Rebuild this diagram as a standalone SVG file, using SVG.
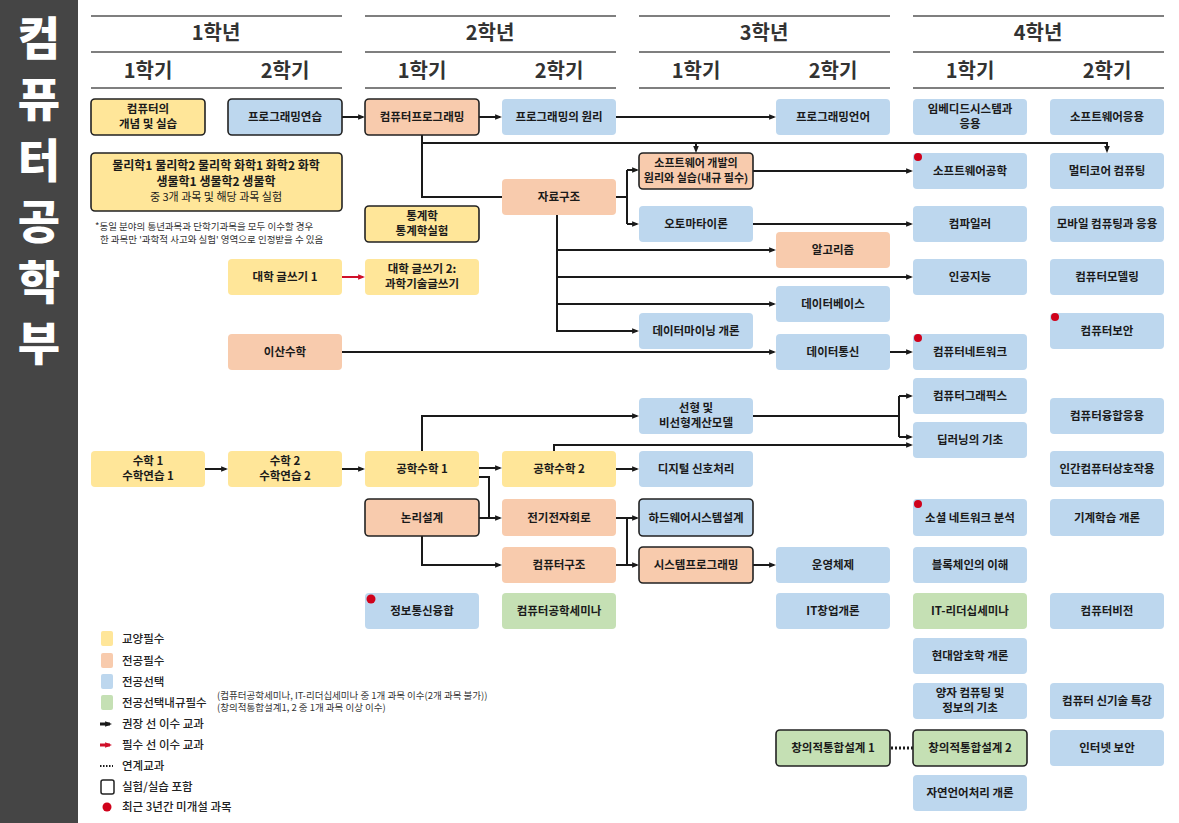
<svg xmlns="http://www.w3.org/2000/svg" width="1179" height="823" viewBox="0 0 1179 823">
<style>
.y{fill:#FFE699}.o{fill:#F8CBAD}.b{fill:#BDD7EE}.g{fill:#C5E0B4}
.bd{stroke:#222;stroke-width:1.6}
.t{font-family:"Noto Sans CJK KR","Noto Sans",sans-serif;font-size:11.5px;font-weight:700;fill:#1a1a1a;text-anchor:middle}
.h1{font-family:"Noto Sans CJK KR","Noto Sans",sans-serif;font-size:20px;font-weight:700;fill:#333;text-anchor:middle}
.h2{font-family:"Noto Sans CJK KR","Noto Sans",sans-serif;font-size:20px;font-weight:600;fill:#333;text-anchor:middle}
.hl{stroke:#555;stroke-width:1.5}
.c{fill:none;stroke:#1a1a1a;stroke-width:2}
.lg{font-family:"Noto Sans CJK KR","Noto Sans",sans-serif;font-size:11.5px;font-weight:500;fill:#222}
.sm{font-family:"Noto Sans CJK KR","Noto Sans",sans-serif;font-size:9.5px;font-weight:400;fill:#333}
.side{font-family:"Noto Sans CJK KR","Noto Sans",sans-serif;font-size:46px;font-weight:900;fill:#fff;text-anchor:middle}
.dot{fill:#D0021B}
</style>
<defs>
<marker id="a" viewBox="0 0 10 10" refX="7" refY="5" markerWidth="7" markerHeight="7" markerUnits="userSpaceOnUse" orient="auto"><path d="M0,1 L10,5 L0,9 z" fill="#1a1a1a"/></marker>
<marker id="ar" viewBox="0 0 10 10" refX="7" refY="5" markerWidth="7" markerHeight="7" markerUnits="userSpaceOnUse" orient="auto"><path d="M0,1 L10,5 L0,9 z" fill="#D0102A"/></marker>
</defs>
<rect width="1179" height="823" fill="#fff"/>
<g id="sidebar">
<rect x="0" y="0" width="78" height="823" fill="#454545"/>
<text class="side" x="39" y="55">컴<tspan x="39" dy="61">퓨</tspan><tspan x="39" dy="61">터</tspan><tspan x="39" dy="61">공</tspan><tspan x="39" dy="61">학</tspan><tspan x="39" dy="61">부</tspan></text>
</g>
<g id="header">
<path class="hl" d="M91,16H342M365,16H616M639,16H890M913,16H1164M91,52H342M365,52H616M639,52H890M913,52H1164M91,88H342M365,88H616M639,88H890M913,88H1164"/>
<text class="h1" x="216" y="40">1학년</text>
<text class="h1" x="490" y="40">2학년</text>
<text class="h1" x="764" y="40">3학년</text>
<text class="h1" x="1038" y="40">4학년</text>
<text class="h2" x="148" y="78">1학기</text>
<text class="h2" x="285" y="78">2학기</text>
<text class="h2" x="422" y="78">1학기</text>
<text class="h2" x="559" y="78">2학기</text>
<text class="h2" x="696" y="78">1학기</text>
<text class="h2" x="833" y="78">2학기</text>
<text class="h2" x="970" y="78">1학기</text>
<text class="h2" x="1107" y="78">2학기</text>
</g>
<g id="connectors">
<path class="c" d="M342,117H363" marker-end="url(#a)"/>
<path class="c" d="M479,117H500" marker-end="url(#a)"/>
<path class="c" d="M616,117H774" marker-end="url(#a)"/>
<path class="c" d="M422,135V197H502"/>
<path class="c" d="M422,143H1107V151" marker-end="url(#a)"/>
<path class="c" d="M696,143V151" marker-end="url(#a)"/>
<path class="c" d="M616,197H627"/>
<path class="c" d="M627,170V224"/>
<path class="c" d="M627,170H637" marker-end="url(#a)"/>
<path class="c" d="M627,224H637" marker-end="url(#a)"/>
<path class="c" d="M557,215V331H637" marker-end="url(#a)"/>
<path class="c" d="M557,250H774" marker-end="url(#a)"/>
<path class="c" d="M557,277H911" marker-end="url(#a)"/>
<path class="c" d="M557,304H774" marker-end="url(#a)"/>
<path class="c" d="M753,171H911" marker-end="url(#a)"/>
<path class="c" d="M753,224H911" marker-end="url(#a)"/>
<path fill="none" stroke="#D0102A" stroke-width="2" d="M342,277H363" marker-end="url(#ar)"/>
<path class="c" d="M342,352H774" marker-end="url(#a)"/>
<path class="c" d="M890,352H911" stroke-width="3" marker-end="url(#a)"/>
<path class="c" d="M753,416H899"/>
<path class="c" d="M899,396V437"/>
<path class="c" d="M899,396H911" marker-end="url(#a)"/>
<path class="c" d="M899,437H911" marker-end="url(#a)"/>
<path class="c" d="M422,451V416H637" marker-end="url(#a)"/>
<path class="c" d="M554,451V445H911" marker-end="url(#a)"/>
<path class="c" d="M205,469H226" marker-end="url(#a)"/>
<path class="c" d="M342,469H363" marker-end="url(#a)"/>
<path class="c" d="M479,468H500" marker-end="url(#a)"/>
<path class="c" d="M479,477H489V518"/>
<path class="c" d="M479,518H500" marker-end="url(#a)"/>
<path class="c" d="M422,536V565H500" marker-end="url(#a)"/>
<path class="c" d="M616,469H637" marker-end="url(#a)"/>
<path class="c" d="M616,518H627M616,565H627M627,518V565"/>
<path class="c" d="M627,518H637" marker-end="url(#a)"/>
<path class="c" d="M627,565H637" marker-end="url(#a)"/>
<path class="c" d="M753,565H774" marker-end="url(#a)"/>
<path fill="none" stroke="#1a1a1a" stroke-width="3" stroke-dasharray="2,2" d="M891,748H913"/>
</g>
<g id="n_intro"><rect class="y bd" x="91" y="99" width="114" height="36" rx="4"/><text class="t" x="148" y="113">컴퓨터의<tspan x="148" dy="15">개념 및 실습</tspan></text></g>
<g id="n_progpractice"><rect class="b bd" x="228" y="99" width="114" height="36" rx="4"/><text class="t" x="285" y="121">프로그래밍연습</text></g>
<g id="n_compprog"><rect class="o bd" x="365" y="99" width="114" height="36" rx="4"/><text class="t" x="422" y="121">컴퓨터프로그래밍</text></g>
<g id="n_progprinciple"><rect class="b" x="502" y="99" width="114" height="36" rx="4"/><text class="t" x="559" y="121">프로그래밍의 원리</text></g>
<g id="n_proglang"><rect class="b" x="776" y="99" width="114" height="36" rx="4"/><text class="t" x="833" y="121">프로그래밍언어</text></g>
<g id="n_embedded"><rect class="b" x="913" y="99" width="114" height="36" rx="4"/><text class="t" x="970" y="113">임베디드시스템과<tspan x="970" dy="15">응용</tspan></text></g>
<g id="n_swapp"><rect class="b" x="1050" y="99" width="114" height="36" rx="4"/><text class="t" x="1107" y="121">소프트웨어응용</text></g>
<g id="n_science"><rect class="y bd" x="91" y="153" width="251" height="58" rx="4"/><text class="t" x="216" y="170" style="font-size:12px">물리학1 물리학2 물리학 화학1 화학2 화학<tspan x="216" dy="16">생물학1 생물학2 생물학</tspan><tspan x="216" dy="15" style="font-weight:400;font-size:11px">중 3개 과목 및 해당 과목 실험</tspan></text></g>
<g id="n_note"><text class="sm" x="95" y="230">*동일 분야의 통년과목과 단학기과목을 모두 이수할 경우</text><text class="sm" x="100" y="243">한 과목만 '과학적 사고와 실험' 영역으로 인정받을 수 있음</text></g>
<g id="n_swdev"><rect class="o bd" x="639" y="153" width="114" height="36" rx="4"/><text class="t" x="696" y="167" style="font-size:11px">소프트웨어 개발의<tspan x="696" dy="14.5">원리와 실습(내규 필수)</tspan></text></g>
<g id="n_swe"><rect class="b" x="913" y="153" width="114" height="36" rx="4"/><circle class="dot" cx="918" cy="157" r="4"/><text class="t" x="970" y="175">소프트웨어공학</text></g>
<g id="n_multicore"><rect class="b" x="1050" y="153" width="114" height="36" rx="4"/><text class="t" x="1107" y="175">멀티코어 컴퓨팅</text></g>
<g id="n_ds"><rect class="o" x="502" y="179" width="114" height="36" rx="4"/><text class="t" x="559" y="201">자료구조</text></g>
<g id="n_stat"><rect class="y bd" x="365" y="206" width="114" height="36" rx="4"/><text class="t" x="422" y="220">통계학<tspan x="422" dy="15">통계학실험</tspan></text></g>
<g id="n_automata"><rect class="b" x="639" y="206" width="114" height="36" rx="4"/><text class="t" x="696" y="228">오토마타이론</text></g>
<g id="n_compiler"><rect class="b" x="913" y="206" width="114" height="36" rx="4"/><text class="t" x="970" y="228">컴파일러</text></g>
<g id="n_mobile"><rect class="b" x="1050" y="206" width="114" height="36" rx="4"/><text class="t" x="1107" y="228">모바일 컴퓨팅과 응용</text></g>
<g id="n_algo"><rect class="o" x="776" y="232" width="114" height="36" rx="4"/><text class="t" x="833" y="254">알고리즘</text></g>
<g id="n_write1"><rect class="y" x="228" y="259" width="114" height="36" rx="4"/><text class="t" x="285" y="281">대학 글쓰기 1</text></g>
<g id="n_write2"><rect class="y" x="365" y="259" width="114" height="36" rx="4"/><text class="t" x="422" y="273">대학 글쓰기 2:<tspan x="422" dy="15">과학기술글쓰기</tspan></text></g>
<g id="n_ai"><rect class="b" x="913" y="259" width="114" height="36" rx="4"/><text class="t" x="970" y="281">인공지능</text></g>
<g id="n_modeling"><rect class="b" x="1050" y="259" width="114" height="36" rx="4"/><text class="t" x="1107" y="281">컴퓨터모델링</text></g>
<g id="n_db"><rect class="b" x="776" y="286" width="114" height="36" rx="4"/><text class="t" x="833" y="308">데이터베이스</text></g>
<g id="n_dm"><rect class="b" x="639" y="313" width="114" height="36" rx="4"/><text class="t" x="696" y="335">데이터마이닝 개론</text></g>
<g id="n_security"><rect class="b" x="1050" y="313" width="114" height="36" rx="4"/><circle class="dot" cx="1055" cy="317" r="4"/><text class="t" x="1107" y="335">컴퓨터보안</text></g>
<g id="n_discrete"><rect class="o" x="228" y="334" width="114" height="36" rx="4"/><text class="t" x="285" y="356">이산수학</text></g>
<g id="n_datacomm"><rect class="b" x="776" y="334" width="114" height="36" rx="4"/><text class="t" x="833" y="356">데이터통신</text></g>
<g id="n_network"><rect class="b" x="913" y="334" width="114" height="36" rx="4"/><circle class="dot" cx="918" cy="338" r="4"/><text class="t" x="970" y="356">컴퓨터네트워크</text></g>
<g id="n_graphics"><rect class="b" x="913" y="378" width="114" height="36" rx="4"/><text class="t" x="970" y="400">컴퓨터그래픽스</text></g>
<g id="n_linear"><rect class="b" x="639" y="398" width="114" height="36" rx="4"/><text class="t" x="696" y="412">선형 및<tspan x="696" dy="15">비선형계산모델</tspan></text></g>
<g id="n_fusion"><rect class="b" x="1050" y="398" width="114" height="36" rx="4"/><text class="t" x="1107" y="420">컴퓨터융합응용</text></g>
<g id="n_dl"><rect class="b" x="913" y="422" width="114" height="36" rx="4"/><text class="t" x="970" y="444">딥러닝의 기초</text></g>
<g id="n_math1"><rect class="y" x="91" y="451" width="114" height="36" rx="4"/><text class="t" x="148" y="465">수학 1<tspan x="148" dy="15">수학연습 1</tspan></text></g>
<g id="n_math2"><rect class="y" x="228" y="451" width="114" height="36" rx="4"/><text class="t" x="285" y="465">수학 2<tspan x="285" dy="15">수학연습 2</tspan></text></g>
<g id="n_em1"><rect class="y" x="365" y="451" width="114" height="36" rx="4"/><text class="t" x="422" y="473">공학수학 1</text></g>
<g id="n_em2"><rect class="y" x="502" y="451" width="114" height="36" rx="4"/><text class="t" x="559" y="473">공학수학 2</text></g>
<g id="n_dsp"><rect class="b" x="639" y="451" width="114" height="36" rx="4"/><text class="t" x="696" y="473">디지털 신호처리</text></g>
<g id="n_hci"><rect class="b" x="1050" y="451" width="114" height="36" rx="4"/><text class="t" x="1107" y="473">인간컴퓨터상호작용</text></g>
<g id="n_logic"><rect class="o bd" x="365" y="499" width="114" height="37" rx="4"/><text class="t" x="422" y="522">논리설계</text></g>
<g id="n_circuit"><rect class="o" x="502" y="499" width="114" height="37" rx="4"/><text class="t" x="559" y="522">전기전자회로</text></g>
<g id="n_hwdesign"><rect class="b bd" x="639" y="499" width="114" height="37" rx="4"/><text class="t" x="696" y="522">하드웨어시스템설계</text></g>
<g id="n_sna"><rect class="b" x="913" y="499" width="114" height="37" rx="4"/><circle class="dot" cx="918" cy="504" r="4"/><text class="t" x="970" y="522">소셜 네트워크 분석</text></g>
<g id="n_ml"><rect class="b" x="1050" y="499" width="114" height="37" rx="4"/><text class="t" x="1107" y="522">기계학습 개론</text></g>
<g id="n_arch"><rect class="o" x="502" y="547" width="114" height="36" rx="4"/><text class="t" x="559" y="569">컴퓨터구조</text></g>
<g id="n_sysprog"><rect class="o bd" x="639" y="547" width="114" height="36" rx="4"/><text class="t" x="696" y="569">시스템프로그래밍</text></g>
<g id="n_os"><rect class="b" x="776" y="547" width="114" height="36" rx="4"/><text class="t" x="833" y="569">운영체제</text></g>
<g id="n_blockchain"><rect class="b" x="913" y="547" width="114" height="36" rx="4"/><text class="t" x="970" y="569">블록체인의 이해</text></g>
<g id="n_ictfusion"><rect class="b" x="365" y="593" width="114" height="36" rx="4"/><circle class="dot" cx="371" cy="599" r="4.5"/><text class="t" x="422" y="615">정보통신융합</text></g>
<g id="n_seminar"><rect class="g" x="502" y="593" width="114" height="36" rx="4"/><text class="t" x="559" y="615">컴퓨터공학세미나</text></g>
<g id="n_startup"><rect class="b" x="776" y="593" width="114" height="36" rx="4"/><text class="t" x="833" y="615">IT창업개론</text></g>
<g id="n_leadership"><rect class="g" x="913" y="593" width="114" height="36" rx="4"/><text class="t" x="970" y="615">IT-리더십세미나</text></g>
<g id="n_vision"><rect class="b" x="1050" y="593" width="114" height="36" rx="4"/><text class="t" x="1107" y="615">컴퓨터비전</text></g>
<g id="n_crypto"><rect class="b" x="913" y="638" width="114" height="36" rx="4"/><text class="t" x="970" y="660">현대암호학 개론</text></g>
<g id="n_quantum"><rect class="b" x="913" y="683" width="114" height="36" rx="4"/><text class="t" x="970" y="697">양자 컴퓨팅 및<tspan x="970" dy="15">정보의 기초</tspan></text></g>
<g id="n_newtech"><rect class="b" x="1050" y="683" width="114" height="36" rx="4"/><text class="t" x="1107" y="705">컴퓨터 신기술 특강</text></g>
<g id="n_capstone1"><rect class="g bd" x="776" y="730" width="114" height="36" rx="4"/><text class="t" x="833" y="752">창의적통합설계 1</text></g>
<g id="n_capstone2"><rect class="g bd" x="913" y="730" width="114" height="36" rx="4"/><text class="t" x="970" y="752">창의적통합설계 2</text></g>
<g id="n_netsec"><rect class="b" x="1050" y="730" width="114" height="36" rx="4"/><text class="t" x="1107" y="752">인터넷 보안</text></g>
<g id="n_nlp"><rect class="b" x="913" y="775" width="114" height="36" rx="4"/><text class="t" x="970" y="797">자연언어처리 개론</text></g>
<g id="legend">
<rect class="y" x="101" y="631" width="12" height="15" rx="2"/>
<text class="lg" x="122" y="643">교양필수</text>
<rect class="o" x="101" y="653" width="12" height="15" rx="2"/>
<text class="lg" x="122" y="665">전공필수</text>
<rect class="b" x="101" y="674" width="12" height="15" rx="2"/>
<text class="lg" x="122" y="686">전공선택</text>
<rect class="g" x="101" y="695" width="12" height="15" rx="2"/>
<text class="lg" x="122" y="707">전공선택내규필수</text>
<text class="sm" x="217" y="699">(컴퓨터공학세미나, IT-리더십세미나 중 1개 과목 이수(2개 과목 불가))</text>
<text class="sm" x="217" y="711">(창의적통합설계1, 2 중 1개 과목 이상 이수)</text>
<path fill="none" stroke="#1a1a1a" stroke-width="3" d="M100,724H110" marker-end="url(#a)"/>
<text class="lg" x="122" y="728">권장 선 이수 교과</text>
<path fill="none" stroke="#D0102A" stroke-width="3" d="M100,745H110" marker-end="url(#ar)"/>
<text class="lg" x="122" y="749">필수 선 이수 교과</text>
<path fill="none" stroke="#1a1a1a" stroke-width="2" stroke-dasharray="1.5,1.5" d="M100,766H113"/>
<text class="lg" x="122" y="770">연계교과</text>
<rect x="101" y="780" width="13" height="14" rx="2" fill="#fff" stroke="#222" stroke-width="1.5"/>
<text class="lg" x="122" y="791">실험/실습 포함</text>
<circle class="dot" cx="107" cy="807" r="4.5"/>
<text class="lg" x="122" y="811">최근 3년간 미개설 과목</text>
</g>
</svg>
